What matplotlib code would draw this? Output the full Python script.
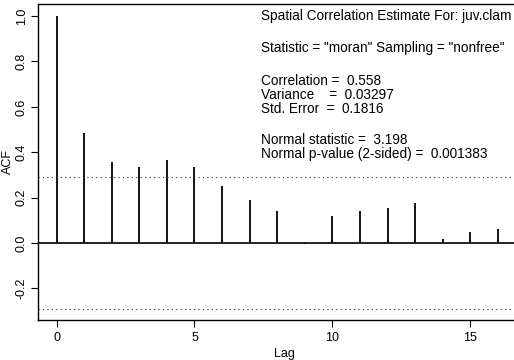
import matplotlib
matplotlib.use("Agg")
import matplotlib.pyplot as plt

plt.rcParams['font.family'] = ['Liberation Sans', 'DejaVu Sans']

# ACF-Werte je Lag
lags = list(range(17))
acf = [1.0, 0.485, 0.357, 0.335, 0.366, 0.335, 0.25, 0.19, 0.14, -0.005,
       0.12, 0.14, 0.155, 0.175, 0.02, 0.047, 0.06]
bound = 0.29

info_lines = [
    'Spatial Correlation Estimate For: juv.clam',
    'Statistic = "moran" Sampling = "nonfree"',
    'Correlation =  0.558\nVariance    =  0.03297\nStd. Error  =  0.1816',
    'Normal statistic =  3.198\nNormal p-value (2-sided) =  0.001383',
]
info_y = [1.0, 0.86, 0.652, 0.423]

fig = plt.figure(figsize=(5.14, 3.6), dpi=100)
ax = fig.add_axes([0.073, 0.111, 0.96, 0.878])

ax.vlines(lags, 0, acf, color='black', linewidth=1.3)
ax.axhline(0, color='black', linewidth=1.2)
ax.axhline(bound, color='#333333', linewidth=0.8, linestyle=(0, (1, 3)))
ax.axhline(-bound, color='#333333', linewidth=0.8, linestyle=(0, (1, 3)))

ax.set_xlim(-0.69, 17.2)
ax.set_ylim(-0.339, 1.053)
ax.set_xticks([0, 5, 10, 15])
ax.set_yticks([-0.2, 0.0, 0.2, 0.4, 0.6, 0.8, 1.0])
ax.set_yticklabels(['-0.2', '0.0', '0.2', '0.4', '0.6', '0.8', '1.0'],
                   rotation=90, va='center')
ax.tick_params(direction='out', length=5, width=0.8, labelsize=9)
ax.tick_params(axis='y', pad=2)
for s in ax.spines.values():
    s.set_linewidth(1.0)

ax.set_xlabel('Lag', fontsize=9, labelpad=3)
ax.set_ylabel('ACF', fontsize=9)
ax.yaxis.set_label_coords(-0.048, 0.5)

for txt, y in zip(info_lines, info_y):
    ax.text(7.41, y, txt, fontsize=9.8, va='center', ha='left',
            linespacing=0.98)

fig.savefig('out.png', dpi=100)
